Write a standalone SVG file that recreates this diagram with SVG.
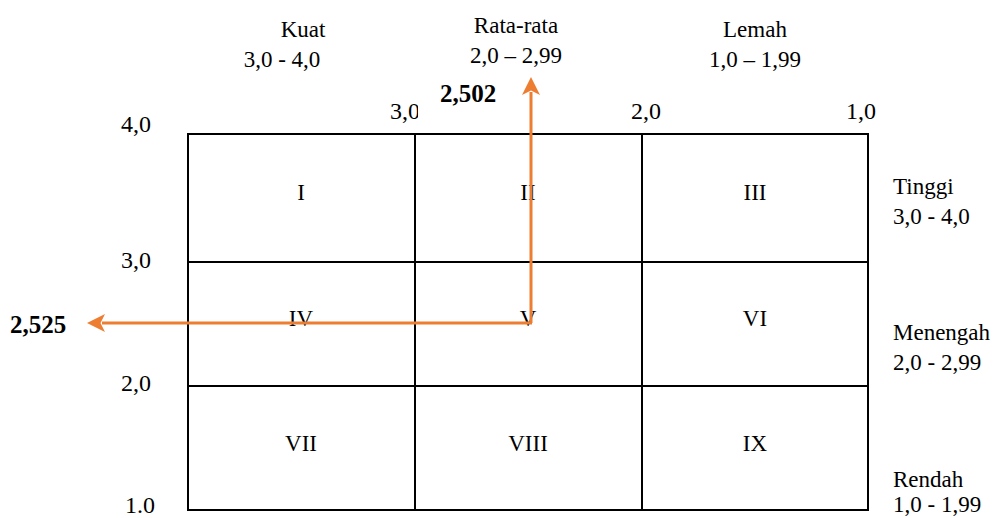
<svg xmlns="http://www.w3.org/2000/svg" width="997" height="518" viewBox="0 0 997 518">
<style>
text{font-family:"Liberation Serif","Times New Roman",serif;fill:#000}
.s{font-size:23px}
.a{font-size:24px}
.b{font-size:25px;font-weight:bold}
.g{stroke:#000;stroke-width:2;fill:none}
.o{stroke:#ED7D31;stroke-width:3;fill:none}
</style>
<defs>
<marker id="ah" markerWidth="6" markerHeight="6" refX="1" refY="3" orient="auto" markerUnits="strokeWidth">
<path d="M0,0 L6,3 L0,6 L1.5,3 Z" fill="#ED7D31"/>
</marker>
</defs>
<rect width="997" height="518" fill="#fff"/>
<g id="header">
<text class="s" x="303" y="37" text-anchor="middle">Kuat</text>
<text class="s" x="282" y="67" text-anchor="middle">3,0 - 4,0</text>
<text class="s" x="516" y="33" text-anchor="middle">Rata-rata</text>
<text class="s" x="516" y="63" text-anchor="middle">2,0 – 2,99</text>
<text class="s" x="755" y="37" text-anchor="middle">Lemah</text>
<text class="s" x="755" y="67" text-anchor="middle">1,0 – 1,99</text>
</g>
<g id="axis">
<text class="a" x="121" y="132">4,0</text>
<text class="a" x="121" y="268">3,0</text>
<text class="a" x="121" y="391">2,0</text>
<text class="a" x="125" y="513">1.0</text>
<text class="a" x="390" y="119">3,0</text>
<rect x="418" y="90" width="90" height="40" fill="#fff"/>
<text class="a" x="631" y="119">2,0</text>
<text class="a" x="846" y="119">1,0</text>
</g>
<g id="grid">
<rect class="g" x="188" y="134" width="680" height="376"/>
<line class="g" x1="415" y1="134" x2="415" y2="510"/>
<line class="g" x1="642" y1="134" x2="642" y2="510"/>
<line class="g" x1="188" y1="262" x2="868" y2="262"/>
<line class="g" x1="188" y1="386" x2="868" y2="386"/>
</g>
<g id="cells">
<text class="s" x="301" y="200" text-anchor="middle">I</text>
<text class="s" x="528" y="200" text-anchor="middle">II</text>
<text class="s" x="755" y="200" text-anchor="middle">III</text>
<text class="s" x="301" y="326" text-anchor="middle">IV</text>
<text class="s" x="528" y="326" text-anchor="middle">V</text>
<text class="s" x="755" y="326" text-anchor="middle">VI</text>
<text class="s" x="301" y="451" text-anchor="middle">VII</text>
<text class="s" x="528" y="451" text-anchor="middle">VIII</text>
<text class="s" x="755" y="451" text-anchor="middle">IX</text>
</g>
<g id="right">
<text class="s" x="893" y="194">Tinggi</text>
<text class="s" x="893" y="224">3,0 - 4,0</text>
<text class="s" x="893" y="340">Menengah</text>
<text class="s" x="893" y="370">2,0 - 2,99</text>
<text class="s" x="893" y="487">Rendah</text>
<text class="s" x="893" y="512">1,0 - 1,99</text>
</g>
<g id="connectors">
<line class="o" x1="531" y1="323" x2="531" y2="92" marker-end="url(#ah)"/>
<line class="o" x1="532" y1="323" x2="102" y2="323" marker-end="url(#ah)"/>
</g>
<g id="values">
<text class="b" x="440" y="102">2,502</text>
<text class="b" x="10" y="333">2,525</text>
</g>
</svg>
